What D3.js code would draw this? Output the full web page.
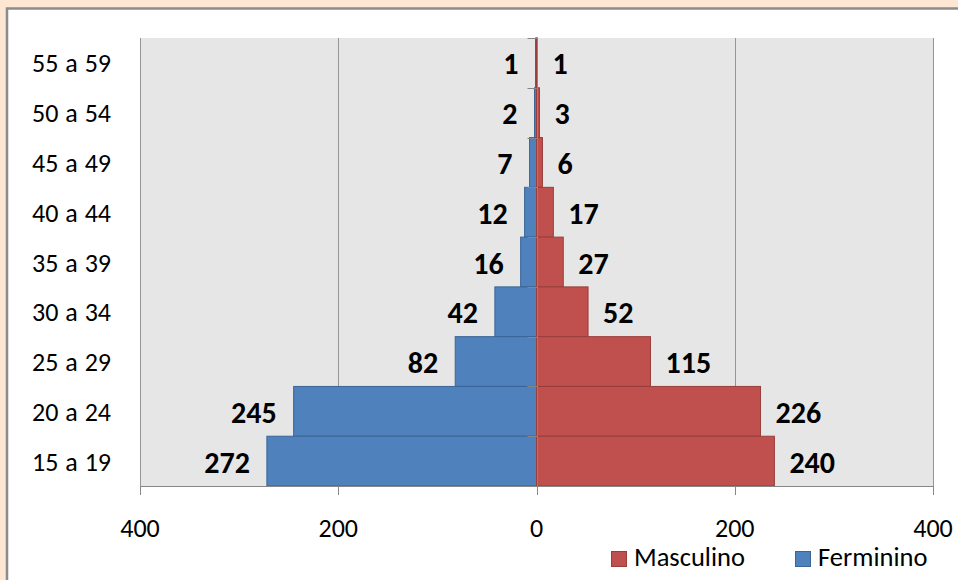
<!DOCTYPE html>
<html><head><meta charset="utf-8">
<script src="https://cdn.jsdelivr.net/npm/d3@7"></script>
<style>
html,body{margin:0;padding:0;background:#fde7d2;overflow:hidden;}
text{font-family:Carlito,Calibri,Lato,sans-serif;}
</style></head>
<body>
<svg id="c" width="958" height="580"></svg>
<script>
// Data (top to bottom)
const categories = ["55 a 59","50 a 54","45 a 49","40 a 44","35 a 39","30 a 34","25 a 29","20 a 24","15 a 19"];
const feminino  = [1, 2, 7, 12, 16, 42, 82, 245, 272];
const masculino = [1, 3, 6, 17, 27, 52, 115, 226, 240];
const xTicks = [-400, -200, 0, 200, 400];
const seriesNames = ["Masculino", "Ferminino"];

const svg = d3.select("#c");
// chart frame
svg.append("rect").attr("x",7).attr("y",8.5).attr("width",1000).attr("height",700)
  .attr("fill","#ffffff").attr("stroke","#8c8c8c").attr("stroke-width",2.5);

const L=140, R=933, T=38, B=486;
const x = d3.scaleLinear().domain([-400,400]).range([L,R]);
const y = d3.scaleBand().domain(categories).range([T,B]).padding(0);

// plot area
svg.append("rect").attr("x",L).attr("y",T).attr("width",R-L).attr("height",B-T).attr("fill","#e6e6e6");

// gridlines
svg.append("g").selectAll("line").data(xTicks).join("line")
  .attr("x1",d=>Math.round(x(d))+0.5).attr("x2",d=>Math.round(x(d))+0.5)
  .attr("y1",T).attr("y2",B).attr("stroke","#969696").attr("stroke-width",1);

// bars
const fem = categories.map((c,i)=>({c, v:feminino[i]}));
const mas = categories.map((c,i)=>({c, v:masculino[i]}));
svg.append("g").selectAll("rect").data(fem).join("rect")
  .attr("x",d=>x(-d.v)).attr("width",d=>x(0)-x(-d.v))
  .attr("y",d=>y(d.c)).attr("height",y.bandwidth())
  .attr("fill","#4f81bd").attr("stroke","#3a6595").attr("stroke-width",1);
svg.append("g").selectAll("rect").data(mas).join("rect")
  .attr("x",x(0)).attr("width",d=>x(d.v)-x(0))
  .attr("y",d=>y(d.c)).attr("height",y.bandwidth())
  .attr("fill","#c0504d").attr("stroke","#983e3b").attr("stroke-width",1);

// data labels
const lblStyle = s=>s.attr("font-weight","bold").attr("font-size",30).attr("fill","#000");
svg.append("g").selectAll("text").data(fem).join("text")
  .attr("x",d=>x(-d.v)-17).attr("y",d=>y(d.c)+y.bandwidth()/2+11.5)
  .attr("text-anchor","end").text(d=>d.v).call(lblStyle);
svg.append("g").selectAll("text").data(mas).join("text")
  .attr("x",d=>x(d.v)+15).attr("y",d=>y(d.c)+y.bandwidth()/2+11.5)
  .attr("text-anchor","start").text(d=>d.v).call(lblStyle);

// vertical axis at zero
const ax = Math.round(x(0))+0.5;
svg.append("line").attr("x1",ax).attr("x2",ax).attr("y1",T).attr("y2",B).attr("stroke","#868686");
const bounds = categories.map(c=>y(c)).concat([B]);
svg.append("g").selectAll("line").data(bounds).join("line")
  .attr("x1",ax-10).attr("x2",ax).attr("y1",d=>Math.round(d)+0.5).attr("y2",d=>Math.round(d)+0.5)
  .attr("stroke","#868686");

// bottom axis
svg.append("line").attr("x1",L).attr("x2",R).attr("y1",B+0.5).attr("y2",B+0.5).attr("stroke","#868686");
svg.append("g").selectAll("line").data(xTicks).join("line")
  .attr("x1",d=>Math.round(x(d))+0.5).attr("x2",d=>Math.round(x(d))+0.5)
  .attr("y1",B).attr("y2",B+9).attr("stroke","#868686");
svg.append("g").selectAll("text").data(xTicks).join("text")
  .attr("x",d=>x(d)).attr("y",537).attr("text-anchor","middle")
  .attr("font-size",26).attr("fill","#000").text(d=>Math.abs(d));

// category labels
svg.append("g").selectAll("text").data(categories).join("text")
  .attr("x",111).attr("y",c=>y(c)+y.bandwidth()/2+9.5).attr("text-anchor","end")
  .attr("font-size",26).attr("word-spacing",1).attr("fill","#000").text(c=>c);

// legend
const legend = [{name:seriesNames[0], color:"#c0504d", stroke:"#983e3b", x:611, tx:634},
                {name:seriesNames[1], color:"#4f81bd", stroke:"#3a6595", x:795, tx:818}];
const lg = svg.append("g").selectAll("g").data(legend).join("g");
lg.append("rect").attr("x",d=>d.x+0.5).attr("y",551.5).attr("width",15).attr("height",15)
  .attr("fill",d=>d.color).attr("stroke",d=>d.stroke);
lg.append("text").attr("x",d=>d.tx).attr("y",566).attr("font-size",26.5).attr("fill","#000").text(d=>d.name);
</script>
</body></html>
